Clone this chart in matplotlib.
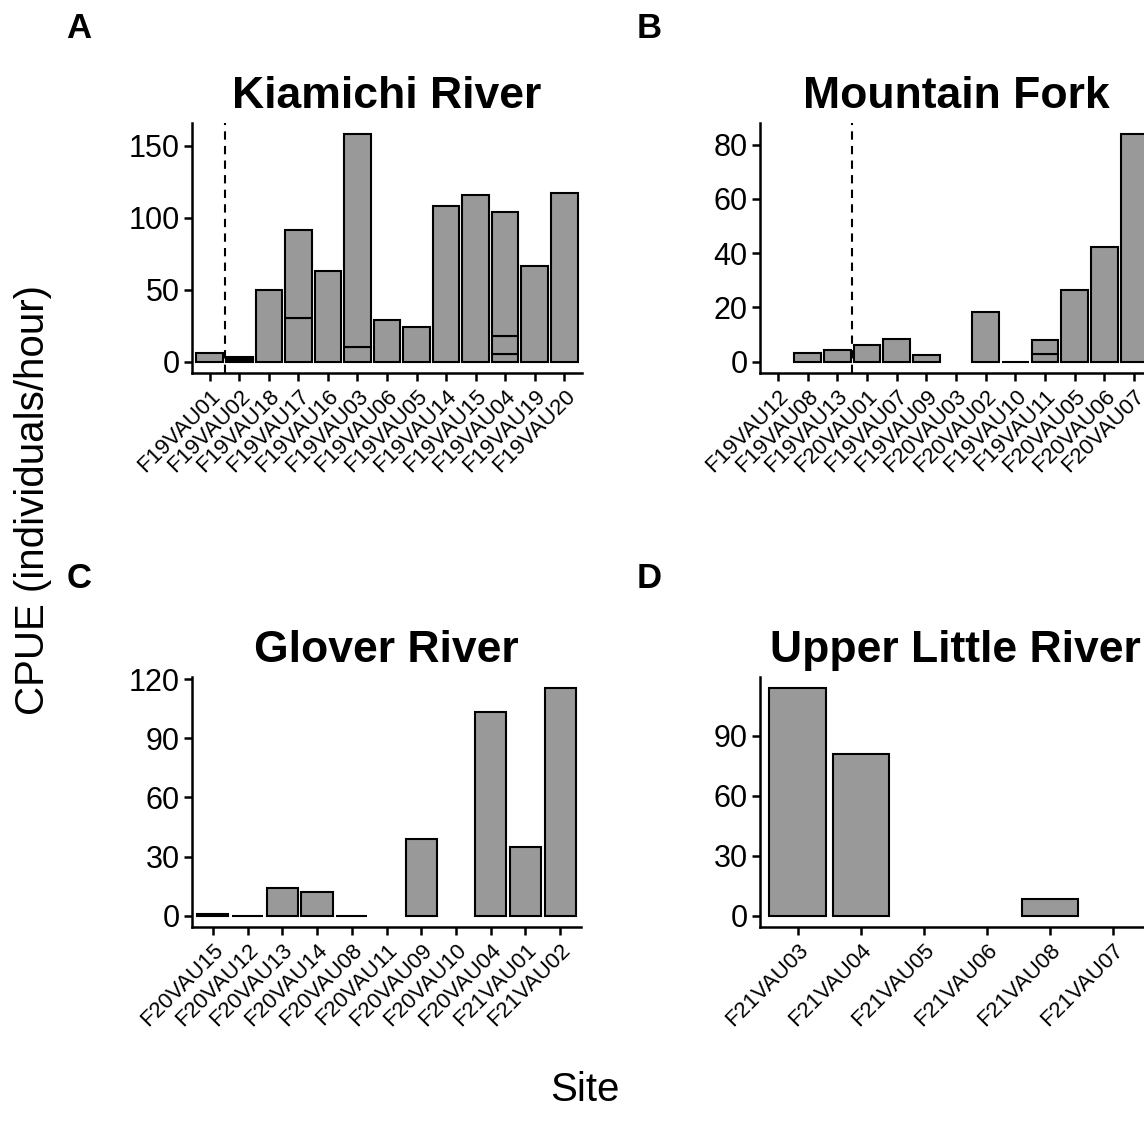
import numpy as np
import matplotlib
matplotlib.use('Agg')
import matplotlib.pyplot as plt

plt.rcParams['font.family'] = ['Liberation Sans', 'DejaVu Sans']

# Sites in plotting order and CPUE per site (stacked pieces, [] = no data)
kiamichi_sites = ['F19VAU01', 'F19VAU02', 'F19VAU18', 'F19VAU17', 'F19VAU16', 'F19VAU03',
                  'F19VAU06', 'F19VAU05', 'F19VAU14', 'F19VAU15', 'F19VAU04', 'F19VAU19', 'F19VAU20']
kiamichi_cpue = [[6.2], [1.2, 1.0, 1.0], [49.7], [30.0, 61.1], [62.6], [10.4, 147.4],
                 [28.8], [24.2], [108.4], [115.5], [5.5, 12.2, 86.3], [66.7], [116.9]]

mountain_sites = ['F19VAU12', 'F19VAU08', 'F19VAU13', 'F20VAU01', 'F19VAU07', 'F19VAU09',
                  'F20VAU03', 'F20VAU02', 'F19VAU10', 'F19VAU11', 'F20VAU05', 'F20VAU06', 'F20VAU07']
mountain_cpue = [[], [3.1], [4.3], [6.2], [8.2], [2.6], [], [18.2], [0], [2.9, 4.9],
                 [26.5], [42.2], [83.8]]

glover_sites = ['F20VAU15', 'F20VAU12', 'F20VAU13', 'F20VAU14', 'F20VAU08', 'F20VAU11',
                'F20VAU09', 'F20VAU10', 'F20VAU04', 'F21VAU01', 'F21VAU02']
glover_cpue = [[1.0], [0], [14.0], [12.0], [0], [], [38.9], [], [103.2], [34.8], [115.3]]

upper_sites = ['F21VAU03', 'F21VAU04', 'F21VAU05', 'F21VAU06', 'F21VAU08', 'F21VAU07']
upper_cpue = [[113.7], [80.9], [], [], [8.3], []]

W, H = 1144, 1138
fig = plt.figure(figsize=(W / 100, H / 100), dpi=100)


def px_axes(left, right, top, bottom):
    return fig.add_axes([left / W, 1 - bottom / H, (right - left) / W, (bottom - top) / H])


def panel(ax, title, sites, cpue, yticks, vline=None):
    x = np.arange(len(sites))
    for i, pieces in enumerate(cpue):
        base = 0
        for p in pieces:
            ax.bar(x[i], p, bottom=base, width=0.9, color='#999999',
                   edgecolor='black', linewidth=1.5, zorder=2)
            base += p
    top = max(sum(p) for p in cpue)
    ax.set_ylim(-0.05 * top, top * 1.05)
    ax.set_xlim(-0.6, len(sites) - 0.4)
    if vline is not None:
        ax.axvline(vline, color='black', linestyle=(0, (4, 3)), linewidth=1.5, zorder=3)
    ax.set_yticks(yticks)
    ax.set_xticks(x)
    ax.set_xticklabels(sites, rotation=45, ha='right', va='top',
                       rotation_mode='anchor', fontsize=16)
    ax.tick_params(axis='y', labelsize=22, length=6, width=1.8, pad=3, colors='black')
    ax.tick_params(axis='x', length=6, width=1.8, pad=3)
    for s in ['top', 'right']:
        ax.spines[s].set_visible(False)
    for s in ['left', 'bottom']:
        ax.spines[s].set_linewidth(1.8)
    ax.set_title(title, fontsize=32, fontweight='bold', pad=11)


axA = px_axes(192, 582, 123, 373)
panel(axA, 'Kiamichi River', kiamichi_sites, kiamichi_cpue, [0, 50, 100, 150], vline=0.5)

axB = px_axes(760, 1152, 123, 373)
panel(axB, 'Mountain Fork', mountain_sites, mountain_cpue, [0, 20, 40, 60, 80], vline=2.5)

axC = px_axes(192, 581, 677, 927)
panel(axC, 'Glover River', glover_sites, glover_cpue, [0, 30, 60, 90, 120])

axD = px_axes(760, 1151, 677, 927)
panel(axD, 'Upper Little River', upper_sites, upper_cpue, [0, 30, 60, 90])

# panel letters
for lab, (px, py) in zip('ABCD', [(79, 28), (649, 28), (79, 578), (649, 578)]):
    fig.text(px / W, 1 - py / H, lab, fontsize=25, fontweight='bold', ha='center', va='center')

fig.text(33 / W, 1 - 500 / H, 'CPUE (individuals/hour)', rotation=90,
         fontsize=29, ha='center', va='center')
fig.text(585 / W, 1 - 1090 / H, 'Site', fontsize=29, ha='center', va='center')

fig.savefig('out.png', dpi=100)
